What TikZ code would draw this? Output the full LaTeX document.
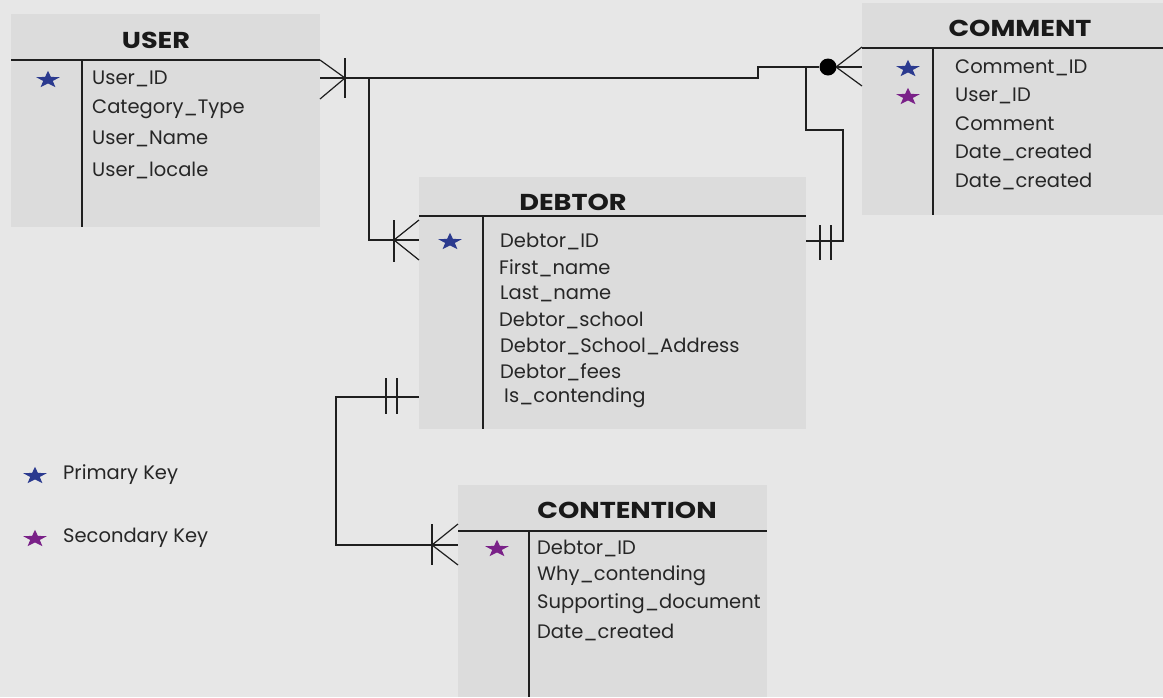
\documentclass[tikz,border=0pt]{standalone}
\usepackage{fontspec}
\setmainfont{Poppins}
\newfontfamily\titlefont[FakeStretch=1.18]{Poppins}
\definecolor{bg}{HTML}{E7E7E7}
\definecolor{boxgray}{HTML}{DCDCDC}
\definecolor{pkblue}{HTML}{2B3A8F}
\definecolor{fkpurple}{HTML}{7A2188}
\newcommand\keystar[3]{% name, position, colour
  \node[inner sep=0, minimum size=0pt] (#1) at (#2) {};
  \fill[#3, shift={(#2)}] (0,-8.1) -- (2.96,-2.05) -- (11.98,-1.92) -- (4.79,1.97)
    -- (7.41,8.14) -- (0,4.46) -- (-7.41,8.14) -- (-4.79,1.97) -- (-11.98,-1.92)
    -- (-2.96,-2.05) -- cycle;}
\begin{document}
\begin{tikzpicture}[x=1pt,y=-1pt,
  tbl/.style={fill=boxgray, draw=none, inner sep=0, outer sep=0, anchor=north west},
  ttl/.style={font=\titlefont\bfseries\fontsize{23}{26}\selectfont, anchor=center, inner sep=0, text=black!90},
  fld/.style={font=\fontsize{19.5}{22}\selectfont, anchor=west, inner sep=0, text=black!85},
  ln/.style={line width=1.2pt, draw=black!88},
  dot/.style={circle, fill=black, draw=none, minimum size=17pt, inner sep=0}]
\fill[bg] (0,0) rectangle (1163,697);
\useasboundingbox (0,0) rectangle (1163,697);

% ---------- USER ----------
\node[tbl, minimum width=309pt, minimum height=213pt] (user) at (11,14) {};
\node[ttl] (userT) at (156,40) {USER};
\draw[ln] (11,60) -- (320,60);
\draw[ln] (82,60) -- (82,227);
\keystar{userS1}{48,79}{pkblue}
\node[fld] (u1) at (92,79) {User\_ID};
\node[fld] (u2) at (92,109) {Category\_Type};
\node[fld] (u3) at (92,139) {User\_Name};
\node[fld] (u4) at (92,170) {User\_locale};

% ---------- COMMENT ----------
\node[tbl, minimum width=301pt, minimum height=212pt] (comment) at (862,3) {};
\node[ttl] (commentT) at (1020,28) {COMMENT};
\draw[ln] (862,48) -- (1163,48);
\draw[ln] (933,48) -- (933,215);
\keystar{cS1}{908,68}{pkblue}
\keystar{cS2}{908,96}{fkpurple}
\node[fld] (c1) at (955,68) {Comment\_ID};
\node[fld] (c2) at (955,96) {User\_ID};
\node[fld] (c3) at (955,124) {Comment};
\node[fld] (c4) at (955,152) {Date\_created};
\node[fld] (c5) at (955,181) {Date\_created};

% ---------- DEBTOR ----------
\node[tbl, minimum width=387pt, minimum height=252pt] (debtor) at (419,177) {};
\node[ttl] (debtorT) at (573,202) {DEBTOR};
\draw[ln] (419,216) -- (806,216);
\draw[ln] (483,216) -- (483,429);
\keystar{dS1}{450,241}{pkblue}
\node[fld] (d1) at (500,241) {Debtor\_ID};
\node[fld] (d2) at (499,268) {First\_name};
\node[fld] (d3) at (500,294) {Last\_name};
\node[fld] (d4) at (499,320) {Debtor\_school};
\node[fld] (d5) at (500,346) {Debtor\_School\_Address};
\node[fld] (d6) at (500,372) {Debtor\_fees};
\node[fld] (d7) at (504,398) {Is\_contending};

% ---------- CONTENTION ----------
\node[tbl, minimum width=309pt, minimum height=212pt] (contention) at (458,485) {};
\node[ttl] (contentionT) at (627,510) {CONTENTION};
\draw[ln] (458,531) -- (767,531);
\draw[ln] (529,531) -- (529,697);
\keystar{tS1}{497,548}{fkpurple}
\node[fld] (t1) at (537,548) {Debtor\_ID};
\node[fld] (t2) at (537,576) {Why\_contending};
\node[fld] (t3) at (537,604) {Supporting\_document};
\node[fld] (t4) at (537,632) {Date\_created};

% ---------- Legend ----------
\keystar{lg1}{35,475}{pkblue}
\node[fld] (lgt1) at (63,475) {Primary Key};
\keystar{lg2}{35,538}{fkpurple}
\node[fld] (lgt2) at (63,538) {Secondary Key};

% ---------- connector points ----------
\coordinate (uE) at (320,78);
\coordinate (uBar) at (345,78);
\coordinate (uJ) at (369,78);
\coordinate (step1) at (758,78);
\coordinate (step2) at (758,67);
\coordinate (cJ) at (806,67);
\node[dot] (cDot) at (828,67) {};
\coordinate (cFoot) at (836,67);
\coordinate (cE) at (862,67);
\coordinate (cb1) at (806,130);
\coordinate (cb2) at (843,130);
\coordinate (cb3) at (843,241);
\coordinate (dE) at (806,241);
\coordinate (dW1) at (369,240);
\coordinate (dBar) at (394,240);
\coordinate (dW) at (419,240);
\coordinate (dW2) at (419,397);
\coordinate (k1) at (336,397);
\coordinate (k2) at (336,545);
\coordinate (tBar) at (432,545);
\coordinate (tW) at (458,545);

% USER -- COMMENT (one-or-many at USER, zero-or-many at COMMENT)
\draw[ln] (uE) -- (uBar) -- (step1) -- (step2) -- (cDot);
\draw[ln] (320,60) -- (uBar) -- (320,99);
\draw[ln] (345,58) -- (345,98);
\draw[ln] (cFoot) -- (862,47);
\draw[ln] (cFoot) -- (cE);
\draw[ln] (cFoot) -- (862,86);

% COMMENT -- DEBTOR branch
\draw[ln] (cJ) -- (cb1) -- (cb2) -- (cb3) -- (dE);
\draw[ln] (820,225) -- (820,260);
\draw[ln] (831,225) -- (831,260);

% USER -- DEBTOR
\draw[ln] (uJ) -- (dW1) -- (dW);
\draw[ln] (dBar) -- (419,220);
\draw[ln] (dBar) -- (419,260);
\draw[ln] (394,220) -- (394,262);

% DEBTOR -- CONTENTION
\draw[ln] (dW2) -- (k1) -- (k2) -- (tW);
\draw[ln] (386,378) -- (386,414);
\draw[ln] (397,378) -- (397,414);
\draw[ln] (tBar) -- (458,524);
\draw[ln] (tBar) -- (458,565);
\draw[ln] (432,524) -- (432,565);
\end{tikzpicture}
\end{document}
